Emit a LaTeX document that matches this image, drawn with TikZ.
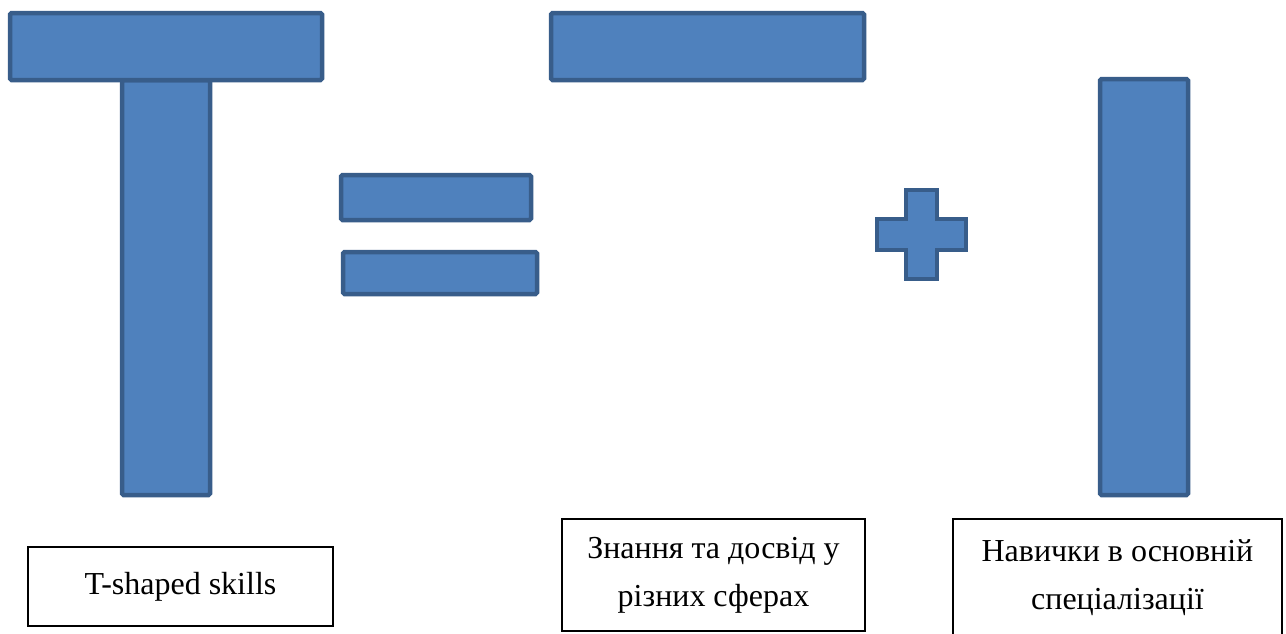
\documentclass[tikz,border=0pt]{standalone}
\usepackage{fontspec}
\setmainfont{Liberation Serif}
\definecolor{fillblue}{HTML}{4F81BD}
\definecolor{edgeblue}{HTML}{385D8A}
\begin{document}
\begin{tikzpicture}[x=1pt,y=-1pt,
  bar/.style={fill=fillblue,draw=edgeblue,line width=4.5pt,rounded corners=1.5pt},
  labelbox/.style={draw=black,line width=1.8pt,align=center,inner sep=0pt,
    font=\fontsize{32}{48}\selectfont}]
\useasboundingbox (0,0) rectangle (1286,633);
\fill[white] (0,0) rectangle (1286,633);
% T shape
\draw[bar] (122,80) rectangle (210,495);
\draw[bar] (10,13) rectangle (322,80);
% equals sign
\draw[bar] (341,175) rectangle (531,220);
\draw[bar] (343,252) rectangle (537,294);
% horizontal bar
\draw[bar] (551,13) rectangle (864,80);
% plus sign
\draw[bar,rounded corners=0pt,line join=miter]
  (906,190) -- (937,190) -- (937,219) -- (966,219) -- (966,250) -- (937,250)
  -- (937,279) -- (906,279) -- (906,250) -- (877,250) -- (877,219) -- (906,219) -- cycle;
% vertical bar
\draw[bar] (1100,79) rectangle (1188,495);
% labels
\node[labelbox,minimum width=305pt,minimum height=79pt] (t1) at (180.5,586.5) {T-shaped skills};
\node[labelbox,minimum width=303pt,minimum height=112pt] (t2) at (713.5,575) {Знання та досвід у\\різних сферах};
\node[labelbox,minimum width=329pt,minimum height=117pt] (t3) at (1117.5,577.5) {Навички в основній\\спеціалізації};
\end{tikzpicture}
\end{document}
